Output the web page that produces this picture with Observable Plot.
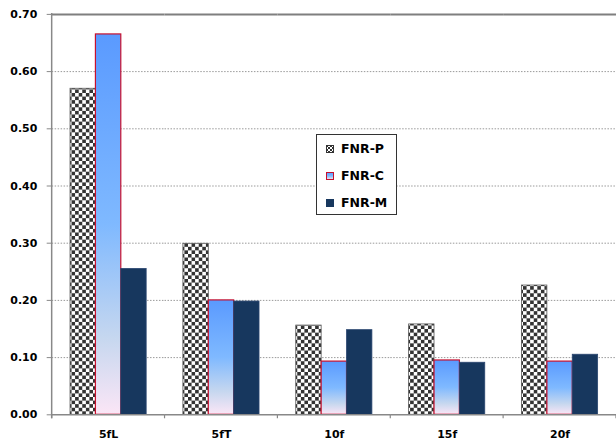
<!DOCTYPE html>
<html>
<head>
<meta charset="utf-8">
<script src="https://cdn.jsdelivr.net/npm/d3@7"></script>
<script src="https://cdn.jsdelivr.net/npm/@observablehq/plot@0.6"></script>
<style>
  html, body { margin: 0; padding: 0; background: #fff; overflow: hidden; }
  #wrap { position: relative; width: 616px; height: 442px; overflow: hidden; background: #fff; }
  #legend { position: absolute; left: 316px; top: 134px; width: 79px; height: 79px; border: 1px solid #333; background: #fff;
            font-family: 'DejaVu Sans', sans-serif; font-weight: bold; font-size: 12.5px; color: #000; }
  .item { position: absolute; left: 0; height: 27px; line-height: 27px; white-space: nowrap; }
  .item svg { position: absolute; left: 9px; top: 10px; }
  .item span { position: absolute; left: 24px; top: 0; }
</style>
</head>
<body>
<svg width="0" height="0" style="position:absolute">
  <defs>
    <pattern id="checker" patternUnits="userSpaceOnUse" width="7.2" height="7.2">
      <rect x="0" y="0" width="7.2" height="7.2" fill="#fff"/>
      <rect x="0" y="0" width="3.6" height="3.6" fill="#333"/>
      <rect x="3.6" y="3.6" width="3.6" height="3.6" fill="#333"/>
    </pattern>
    <pattern id="checkerSmall" patternUnits="userSpaceOnUse" width="4" height="4">
      <rect x="0" y="0" width="4" height="4" fill="#fff"/>
      <rect x="0" y="0" width="2" height="2" fill="#333"/>
      <rect x="2" y="2" width="2" height="2" fill="#333"/>
    </pattern>
    <linearGradient id="blueGrad" x1="0" y1="0" x2="0" y2="1">
      <stop offset="0" stop-color="#5a9aff"/>
      <stop offset="0.5" stop-color="#7fb9ff"/>
      <stop offset="0.8" stop-color="#c6d7ef"/>
      <stop offset="1" stop-color="#fbe6f6"/>
    </linearGradient>
  </defs>
</svg>
<div id="wrap">
  <div id="chart"></div>
  <div id="legend"></div>
</div>
<script>
const categories = ["5fL", "5fT", "10f", "15f", "20f"];
const series = ["FNR-P", "FNR-C", "FNR-M"];
const fnrP = [0.570, 0.299, 0.156, 0.158, 0.226];
const fnrC = [0.665, 0.200, 0.093, 0.095, 0.093];
const fnrM = [0.255, 0.198, 0.148, 0.091, 0.105];
const yTicks = [0.0, 0.1, 0.2, 0.3, 0.4, 0.5, 0.6, 0.7];

const seriesValues = {"FNR-P": fnrP, "FNR-C": fnrC, "FNR-M": fnrM};
const rows = categories.flatMap((cat, i) => series.map(s => ({cat, series: s, value: seriesValues[s][i]})));
const bySeries = s => rows.filter(r => r.series === s);

const seriesStyle = {
  "FNR-P": {fill: "url(#checker)", stroke: "#555", strokeWidth: 0.8},
  "FNR-C": {fill: "url(#blueGrad)", stroke: "#c8102e", strokeWidth: 1.2},
  "FNR-M": {fill: "#17375e", stroke: "#2a4670", strokeWidth: 0.8}
};

const plot = Plot.plot({
  width: 620,
  height: 442,
  marginLeft: 52,
  marginRight: 0,
  marginTop: 14,
  marginBottom: 25,
  style: {fontFamily: "'DejaVu Sans', sans-serif", fontSize: "11px", fontWeight: "bold", color: "#000", background: "transparent", overflow: "visible"},
  fx: {domain: categories, padding: 0, round: false, label: null},
  x: {domain: series, paddingInner: 0, paddingOuter: 0.724, round: false, axis: null},
  y: {domain: [0, 0.7], range: [417, 14], label: null},
  marks: [
    Plot.gridY(yTicks.filter(t => t > 0 && t < 0.7), {stroke: "#999", strokeOpacity: 1, strokeDasharray: "1.5,1.5"}),
    Plot.ruleY([0.7], {stroke: "#7f7f7f", strokeWidth: 2}),
    ...series.map(s => Plot.barY(bySeries(s), {fx: "cat", x: "series", y: "value", ...seriesStyle[s]})),
    Plot.ruleY([0], {stroke: "#888", strokeWidth: 1.5}),
    Plot.axisY({ticks: yTicks, tickFormat: d3.format(".2f"), tickSize: 5, tickPadding: 10, stroke: "#888", fill: "#000", label: null}),
    Plot.axisFx({anchor: "bottom", tickSize: 0, tickPadding: 16, fill: "#000", label: null})
  ]
});
document.getElementById("chart").appendChild(plot);

// Left axis line and category boundary ticks, placed through the plot's own scales
const fxs = plot.scale("fx");
const ys = plot.scale("y");
const svg = d3.select(plot);
const xa = fxs.range[0], xb = fxs.range[1];
const step = (xb - xa) / categories.length;
const y0 = ys.range[0], y1 = ys.range[1];
const yBottom = Math.max(y0, y1), yTop = Math.min(y0, y1);
svg.append("line").attr("x1", xa).attr("x2", xa).attr("y1", yTop - 1).attr("y2", yBottom + 4)
  .attr("stroke", "#888").attr("stroke-width", 1.5);
d3.range(categories.length + 1).forEach(i => {
  const x = xa + i * step;
  svg.append("line").attr("x1", x).attr("x2", x).attr("y1", yBottom).attr("y2", yBottom + 4)
    .attr("stroke", "#888").attr("stroke-width", 1.2);
});

// Legend
const legend = document.getElementById("legend");
const swatch = {
  "FNR-P": '<svg width="8" height="8"><rect x="0.5" y="0.5" width="7" height="7" fill="url(#checkerSmall)" stroke="#333" stroke-width="1"/></svg>',
  "FNR-C": '<svg width="8" height="8"><rect x="0.5" y="0.5" width="7" height="7" fill="url(#blueGrad)" stroke="#c8102e" stroke-width="1"/></svg>',
  "FNR-M": '<svg width="8" height="8"><rect x="0" y="0" width="8" height="8" fill="#17375e"/></svg>'
};
series.forEach((s, i) => {
  const d = document.createElement("div");
  d.className = "item";
  d.style.top = (0 + i * 27) + "px";
  d.innerHTML = swatch[s] + "<span>" + s + "</span>";
  legend.appendChild(d);
});
</script>
</body>
</html>
